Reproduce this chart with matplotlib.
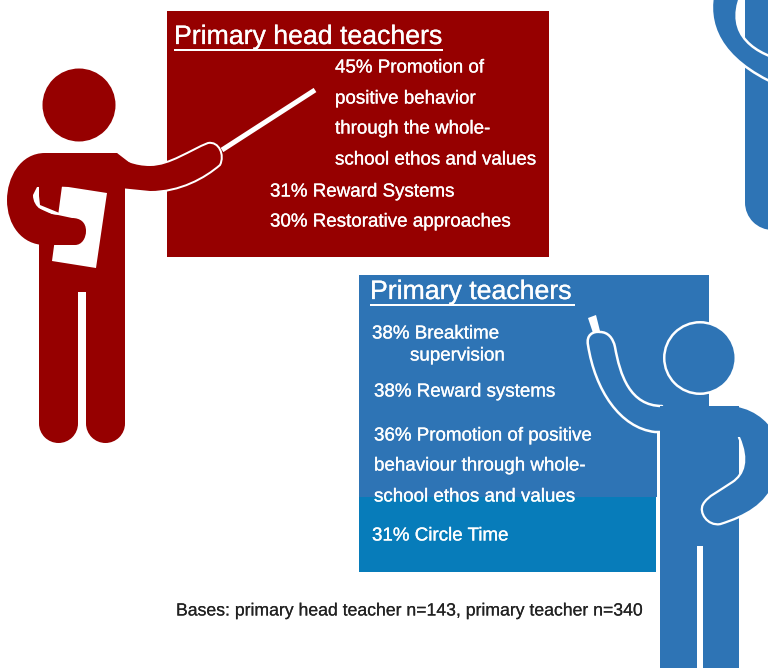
import matplotlib
matplotlib.use("Agg")
import matplotlib.pyplot as plt
import matplotlib.patheffects as pe
from matplotlib.patches import Rectangle, Circle, Polygon, PathPatch
from matplotlib.path import Path

RED = "#960000"
BLUE = "#2E74B5"
TEAL = "#077CBA"
W, H = 768, 668

head_title = "Primary head teachers"
head_values = [45, 31, 30]
head_items = ["Promotion of", "Reward Systems", "Restorative approaches"]
head_wrap = ["positive behavior", "through the whole-", "school ethos and values"]

teacher_title = "Primary teachers"
teacher_values = [38, 38, 36, 31]
teacher_items = ["Breaktime", "Reward systems", "Promotion of positive", "Circle Time"]
teacher_wrap_a = ["supervision"]
teacher_wrap_b = ["behaviour through whole-", "school ethos and values"]
base_groups = ["primary head teacher", "primary teacher"]
base_counts = [143, 340]

plt.rcParams["font.family"] = ["Liberation Sans", "DejaVu Sans"]
fig = plt.figure(figsize=(W / 100, H / 100), dpi=100)
ax = fig.add_axes([0, 0, 1, 1])
ax.set_xlim(0, W)
ax.set_ylim(H, 0)
ax.axis("off")


def px(v):
    return v * 0.72


def shape(start, segs, fc, z, ec="none", lw=0, close=True):
    """Closed or open outline; a 3-point segment is a cubic curve, a 1-point one a line."""
    verts, codes = [start], [Path.MOVETO]
    for s in segs:
        if len(s) == 3:
            verts += list(s)
            codes += [Path.CURVE4] * 3
        else:
            verts += list(s)
            codes += [Path.LINETO]
    if close:
        verts.append(start)
        codes.append(Path.CLOSEPOLY)
    ax.add_patch(PathPatch(Path(verts, codes), fc=fc, ec=ec, lw=px(lw), zorder=z,
                           joinstyle="round", capstyle="round"))


def label(x, y, s, size=13.5, color="white", halo=0.2):
    ax.text(x, y + 1, s, fontsize=size, color=color, va="center", ha="left", zorder=10,
            path_effects=[pe.withStroke(linewidth=halo, foreground=color)])


def title(x, y, s, x2):
    ax.text(x, y, s, fontsize=19.2, color="white", va="center", ha="left", zorder=10,
            path_effects=[pe.withStroke(linewidth=0.2, foreground="white")])
    ax.plot([x, x2], [y + 13, y + 13], color="white", lw=px(2), zorder=10, solid_capstyle="butt")


def rbar(x0, x1, y0, y1, c, z):
    r = (x1 - x0) / 2
    ax.add_patch(Rectangle((x0, y0), x1 - x0, y1 - y0 - r, fc=c, ec="none", zorder=z))
    ax.add_patch(Circle(((x0 + x1) / 2, y1 - r), r, fc=c, ec="none", zorder=z))


# boards
ax.add_patch(Rectangle((167, 11), 382, 246, fc=RED, ec="none", zorder=1))
ax.add_patch(Rectangle((359, 275), 350, 222, fc=BLUE, ec="none", zorder=1))
ax.add_patch(Rectangle((359, 497), 297, 75, fc=TEAL, ec="none", zorder=1))

# red presenter
ax.add_patch(Circle((79, 105), 36.5, fc=RED, ec="none", zorder=3))
ax.plot([222, 315], [150, 90], color="white", lw=px(5), zorder=2, solid_capstyle="butt")
shape((110, 153), [((125, 160), (135, 165), (150, 165)),
                   ((170, 165), (190, 150), (208, 143)),
                   ((219, 141), (225, 155), (220, 165)),
                   ((205, 178), (180, 192), (150, 192)),
                   [(110, 188)]], RED, 3, ec="white", lw=2)
ax.add_patch(Rectangle((39, 170), 86, 122, fc=RED, ec="none", zorder=4))
rbar(39, 78, 280, 443, RED, 4)
rbar(86, 125, 280, 443, RED, 4)
ax.add_patch(Polygon([(62, 186), (107, 193), (96, 268), (52, 261)], fc="white", ec="none", zorder=5))
ax.add_patch(Polygon([(38, 187), (33, 197), (36, 207), (58, 217), (62, 214), (40, 205)],
                     fc="white", ec="none", zorder=5))
shape((117, 153), [[(45, 153)],
                   ((20, 153), (7, 178), (7, 200)),
                   ((7, 225), (22, 245), (45, 245)),
                   [(75, 245)],
                   ((82, 245), (86, 238), (86, 231)),
                   ((86, 222), (80, 218), (72, 218)),
                   [(58, 215)],
                   ((45, 214), (33, 208), (33, 195)),
                   [(37, 187)], [(125, 186)]], RED, 6)
ax.add_patch(Polygon([(110, 153), (117, 153), (130, 163), (130, 186), (110, 186)],
                     fc=RED, ec="none", zorder=6))

# blue presenter, lower right
ax.add_patch(Rectangle((657, 432), 3, 140, fc="white", ec="none", zorder=2))
ax.add_patch(Circle((700, 358), 37, fc="white", ec="none", zorder=2))
ax.add_patch(Circle((700, 358), 34.5, fc=BLUE, ec="none", zorder=3))
ax.add_patch(Polygon([(588, 318), (596, 315), (600, 331), (593, 333)], fc="white", ec="none", zorder=2))
shape((665, 432), [[(655, 432)],
                   ((620, 428), (595, 390), (588, 345)),
                   ((586, 335), (593, 331), (600, 332)),
                   ((608, 332), (613, 338), (615, 347)),
                   ((620, 375), (630, 406), (662, 406))], BLUE, 3, ec="white", lw=2.5)
ax.add_patch(Rectangle((660, 406), 79, 140, fc=BLUE, ec="none", zorder=4))
rbar(660, 697, 530, 690, BLUE, 4)
rbar(703, 739, 530, 690, BLUE, 4)
hand_edge = [((765, 505), (745, 515), (720, 523)),
             ((708, 525), (700, 512), (704, 505)),
             ((708, 497), (720, 492), (733, 483)),
             ((745, 475), (750, 460), (740, 437))]
shape((775, 480), hand_edge, "none", 5, ec="white", lw=4.5, close=False)
shape((680, 406), [[(727, 406)],
                   ((750, 406), (768, 420), (775, 435)),
                   [(775, 480)]] + hand_edge + [[(680, 437)]], BLUE, 6)

# blue presenter, cropped top right
ax.add_patch(Rectangle((745, -5), 40, 200, fc=BLUE, ec="none", zorder=3))
rbar(745, 800, 170, 230, BLUE, 3)
shape((713, -5), [((707, 30), (725, 65), (790, 90)),
                  [(790, 62)],
                  ((755, 55), (725, 35), (741, -5))], BLUE, 5, ec="white", lw=2.5)

# head teacher text
title(174, 37, head_title, 443)
label(335, 67, f"{head_values[0]}% {head_items[0]}")
for y, s in zip([98, 128, 159], head_wrap):
    label(335, y, s)
label(270, 191, f"{head_values[1]}% {head_items[1]}")
label(270, 221, f"{head_values[2]}% {head_items[2]}")

# teacher text
title(370, 292, teacher_title, 575)
label(372, 333, f"{teacher_values[0]}% {teacher_items[0]}")
label(410, 355, teacher_wrap_a[0])
label(374, 391, f"{teacher_values[1]}% {teacher_items[1]}")
label(374, 435, f"{teacher_values[2]}% {teacher_items[2]}")
label(374, 465, teacher_wrap_b[0])
label(374, 496, teacher_wrap_b[1])
label(372, 535, f"{teacher_values[3]}% {teacher_items[3]}")

label(176, 610, f"Bases: {base_groups[0]} n={base_counts[0]}, {base_groups[1]} n={base_counts[1]}",
      size=12.7, color="#222222", halo=0.1)

fig.savefig("out.png", dpi=100)
